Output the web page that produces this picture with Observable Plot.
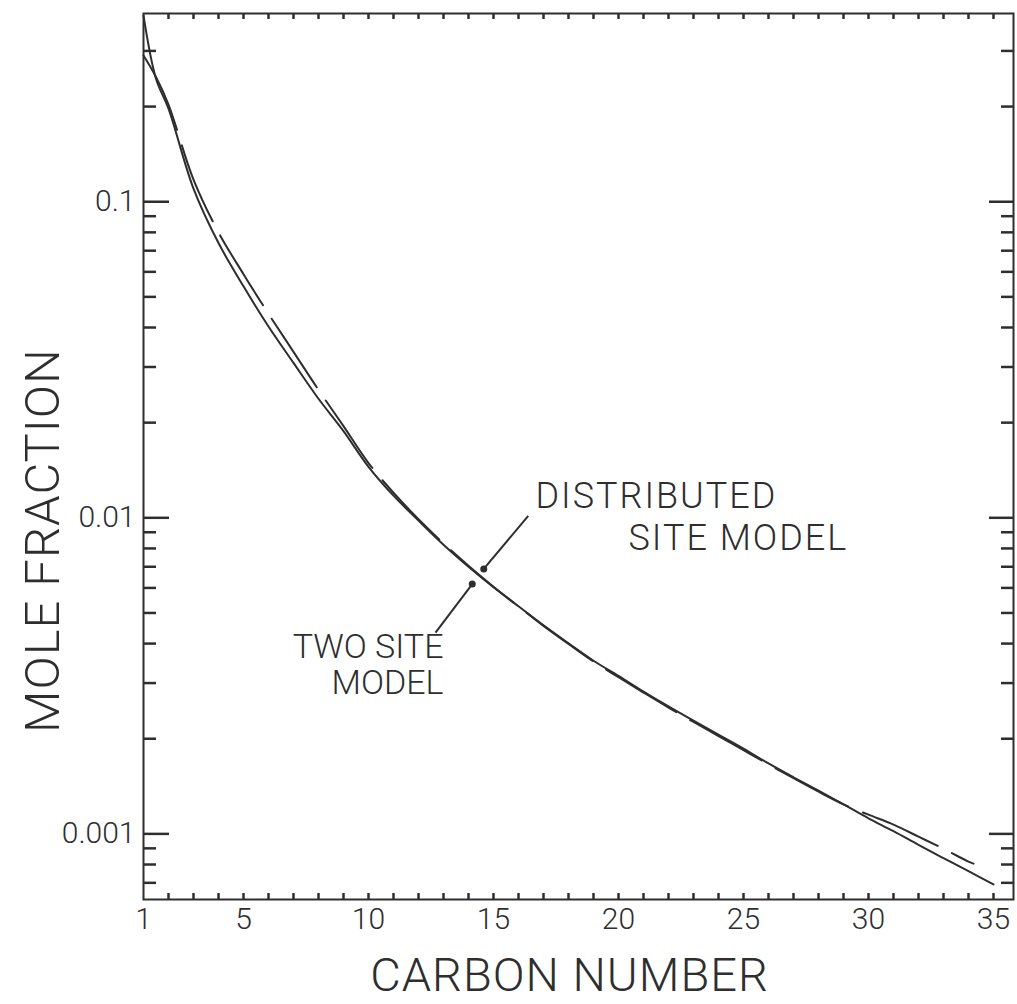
<!DOCTYPE html>
<html>
<head>
<meta charset="utf-8">
<script src="https://cdn.jsdelivr.net/npm/d3@7"></script>
<script src="https://cdn.jsdelivr.net/npm/@observablehq/plot@0.6"></script>
<style>
  html, body { margin: 0; padding: 0; background: #fff; }
  #chart svg { display: block; }
</style>
</head>
<body>
<div id="chart"></div>
<script>
// ---- Data ----
// Solid curve
const solidCarbon = [1, 1.5, 2, 3, 4, 5, 6, 7, 8, 9, 10, 11, 12, 13, 14, 15, 16, 17, 18, 19, 20,
  21, 22, 23, 24, 25, 26, 27, 28, 29, 30, 31, 32, 33, 34, 35];
const solidFraction = [0.388, 0.245, 0.197, 0.11, 0.074, 0.054, 0.0403, 0.0309, 0.0238, 0.0188, 0.0145,
  0.01175, 0.0098, 0.00822, 0.0070, 0.00603, 0.00525, 0.00457, 0.00401, 0.00353, 0.00316,
  0.00282, 0.00253, 0.00228, 0.00206, 0.00186, 0.00167, 0.00151, 0.00137, 0.00124, 0.00112,
  0.00102, 0.000923, 0.000838, 0.000762, 0.000692];

// Long-dashed curve
const dashedCarbon = [1, 1.5, 2, 3, 4, 5, 6, 7, 8, 9, 10, 11, 12, 13, 14, 15, 16, 17, 18, 19, 20,
  21, 22, 23, 24, 25, 26, 27, 28, 29, 30, 31, 32, 33, 34, 34.2];
const dashedFraction = [0.29, 0.248, 0.203, 0.1175, 0.080, 0.059, 0.0442, 0.0335, 0.0254, 0.0195, 0.0149,
  0.0120, 0.0099, 0.0083, 0.00705, 0.00605, 0.00524, 0.00455, 0.00399, 0.00351, 0.00313,
  0.0028, 0.00251, 0.00226, 0.00204, 0.00184, 0.00166, 0.0015, 0.00136, 0.00124, 0.00115,
  0.00107, 0.00098, 0.000897, 0.000817, 0.000805];

// Axis ticks and labels
const xTickLabels = [1, 5, 10, 15, 20, 25, 30, 35];
const xMinorTicks = [2, 3, 4, 5, 6, 7, 8, 9, 10, 11, 12, 13, 14, 15, 16, 17, 18, 19, 20,
  21, 22, 23, 24, 25, 26, 27, 28, 29, 30, 31, 32, 33, 34, 35];
const yMajorTicks = [0.1, 0.01, 0.001];
const yMajorLabels = ["0.1", "0.01", "0.001"];
const yMinorTicks = [0.3, 0.2, 0.09, 0.08, 0.07, 0.06, 0.05, 0.04, 0.03, 0.02,
  0.009, 0.008, 0.007, 0.006, 0.005, 0.004, 0.003, 0.002,
  0.0009, 0.0008, 0.0007];

const xTitle = "CARBON NUMBER";
const yTitle = "MOLE FRACTION";

// Annotations (data coordinates)
const noteText = ["DISTRIBUTED", "SITE MODEL", "TWO SITE", "MODEL"];
const noteCarbon = [16.68, 20.4, 13.0, 13.0];
const noteFraction = [0.0117, 0.00861, 0.00389, 0.00299];
const noteSide = ["start", "start", "end", "end"];
const leaderFromCarbon = [14.61, 14.15];
const leaderFromFraction = [0.00689, 0.00617];
const leaderToCarbon = [16.39, 12.68];
const leaderToFraction = [0.01014, 0.00433];

// ---- Build ----
const W = 1017, H = 1004;
const mL = 143, mR = 4, mT = 13, mB = 105;
const plotW = W - mL - mR, plotH = H - mT - mB;
const ink = "#2e2e2e";
const font = "Roboto, 'Open Sans', 'Liberation Sans', sans-serif";

const solid = solidCarbon.map((c, i) => ({c, v: solidFraction[i]}));
const dashed = dashedCarbon.map((c, i) => ({c, v: dashedFraction[i]}));
const notes = noteText.map((t, i) => ({t, c: noteCarbon[i], v: noteFraction[i], side: noteSide[i]}));
const leaders = leaderFromCarbon.map((c, i) => ({
  c1: c, v1: leaderFromFraction[i], c2: leaderToCarbon[i], v2: leaderToFraction[i]
}));

const chart = Plot.plot({
  width: W,
  height: H,
  marginLeft: mL,
  marginRight: mR,
  marginTop: mT,
  marginBottom: mB,
  style: {fontFamily: font, color: ink, background: "#fff", fontWeight: 300},
  x: {domain: [1, 35.8]},
  y: {type: "log", domain: [0.00062, 0.394]},
  marks: [
    Plot.frame({stroke: ink, strokeWidth: 2}),
    // inward ticks
    Plot.tickY(yMajorTicks, {insetRight: plotW - 26, stroke: ink, strokeWidth: 2.5}),
    Plot.tickY(yMinorTicks, {insetRight: plotW - 13, stroke: ink, strokeWidth: 2.5}),
    Plot.tickY(yMajorTicks, {insetLeft: plotW - 24, stroke: ink, strokeWidth: 2.5}),
    Plot.tickY(yMinorTicks, {insetLeft: plotW - 12, stroke: ink, strokeWidth: 2.5}),
    Plot.tickX(xMinorTicks, {insetTop: plotH - 6, stroke: ink, strokeWidth: 2.5}),
    Plot.tickX(xMinorTicks, {insetBottom: plotH - 6, stroke: ink, strokeWidth: 2.5}),
    // axes labels
    Plot.axisX({ticks: xTickLabels, tickSize: 0, tickPadding: 8, fontSize: 30, label: null, tickFormat: d => String(d)}),
    Plot.axisY({ticks: yMajorTicks, tickSize: 0, tickPadding: 8, fontSize: 30, label: null,
      tickFormat: d => yMajorLabels[yMajorTicks.indexOf(d)]}),
    // curves
    Plot.line(solid, {x: "c", y: "v", curve: "catmull-rom", stroke: ink, strokeWidth: 2}),
    Plot.line(dashed, {x: "c", y: "v", curve: "catmull-rom", stroke: ink, strokeWidth: 2, strokeDasharray: "82,16"}),
    // annotation leaders
    Plot.link(leaders, {x1: "c1", y1: "v1", x2: "c2", y2: "v2", stroke: ink, strokeWidth: 2}),
    Plot.dot(leaders, {x: "c1", y: "v1", r: 3.5, fill: ink, stroke: null}),
    Plot.text(notes.filter(d => d.side === "start"), {x: "c", y: "v", text: "t", textAnchor: "start",
      fontSize: 36, fill: ink, lineAnchor: "middle"}),
    Plot.text(notes.filter(d => d.side === "end"), {x: "c", y: "v", text: "t", textAnchor: "end",
      fontSize: 34, fill: ink, lineAnchor: "middle"}),
    // axis titles
    Plot.text([xTitle], {frameAnchor: "bottom", dy: 76, dx: -9, fontSize: 47, fill: ink,
      textAnchor: "middle", lineAnchor: "middle"}),
    Plot.text([yTitle], {frameAnchor: "left", dx: -100, dy: 84, rotate: -90, fontSize: 49, fill: ink,
      textAnchor: "middle", lineAnchor: "middle"})
  ]
});

// letter spacing to imitate the lettering-guide text of the original
const spacing = {"DISTRIBUTED": "2px", "SITE MODEL": "2px", "MOLE FRACTION": "1px", "CARBON NUMBER": "1px"};
d3.select(chart).selectAll("text").each(function() {
  const s = spacing[this.textContent];
  if (s) this.style.letterSpacing = s;
});

document.getElementById("chart").appendChild(chart);
</script>
</body>
</html>
